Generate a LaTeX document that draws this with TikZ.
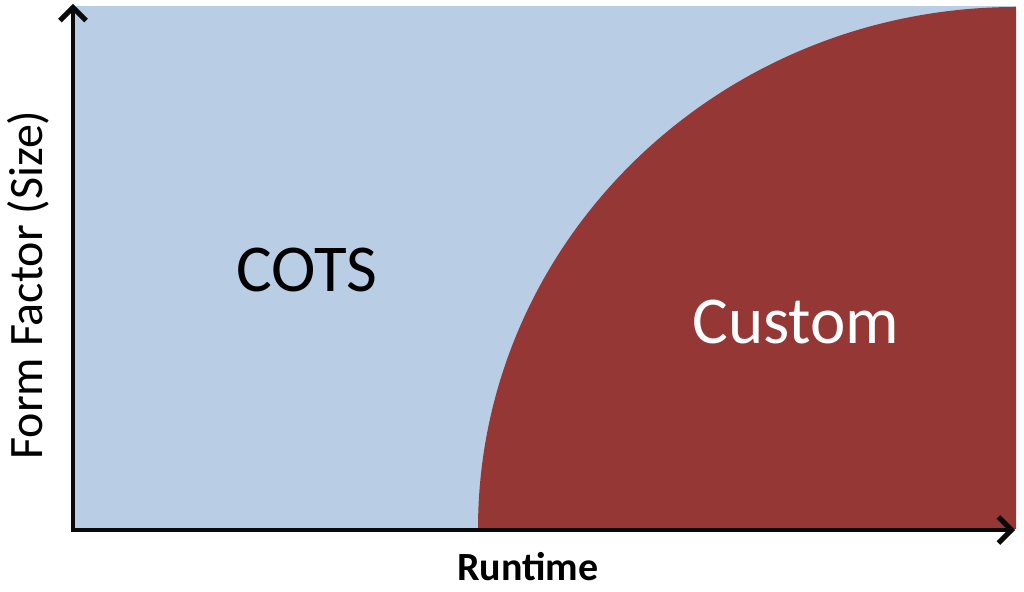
\documentclass[tikz,border=0pt]{standalone}
\usepackage{fontspec}
\setmainfont{Carlito}
\usepackage{xcolor}
\definecolor{clCots}{HTML}{B9CDE5}
\definecolor{clCustom}{HTML}{953735}
\definecolor{clAxis}{HTML}{0A0A0A}
\usepackage{tikz}
\usetikzlibrary{arrows.meta}
\tikzset{
  region/.style={draw=none},
  cots/.style={region, fill=clCots},
  custom/.style={region, fill=clCustom},
  axis/.style={draw=clAxis, line width=4.5pt,
               -{Straight Barb[length=13pt, width=26pt, line width=5pt]}},
  biglabel/.style={font=\fontsize{67}{70}\selectfont, inner sep=0pt},
  axislabel/.style={font=\fontsize{48}{52}\selectfont, inner sep=0pt, text=black},
}

\begin{document}
\begin{tikzpicture}[x=1pt, y=1pt]
  \useasboundingbox (0,0) rectangle (1024,591);
  % regions
  \fill[cots] (75,62) rectangle (1016,585);
  \fill[custom] (478,62) arc[start angle=180, end angle=90, x radius=538, y radius=522]
    -- (1016,62) -- cycle;
  % axes
  \coordinate (origin) at (73,61);
  \coordinate (ytop) at (73,587);
  \coordinate (xend) at (1015,61);
  \draw[axis] (origin) -- (ytop);
  \draw[axis] ([xshift=-2.25pt]origin) -- (xend);
  % labels
  \node[biglabel, text=black] (cotsLabel) at (307,321) {COTS};
  \node[biglabel, text=white] (customLabel) at (796,269) {Custom};
  \node[axislabel, rotate=90] (yLabel) at (28,306) {Form Factor (Size)};
  \node[axislabel, font=\fontsize{40}{44}\selectfont\bfseries] (xLabel) at (528,24) {Runtime};
\end{tikzpicture}
\end{document}
